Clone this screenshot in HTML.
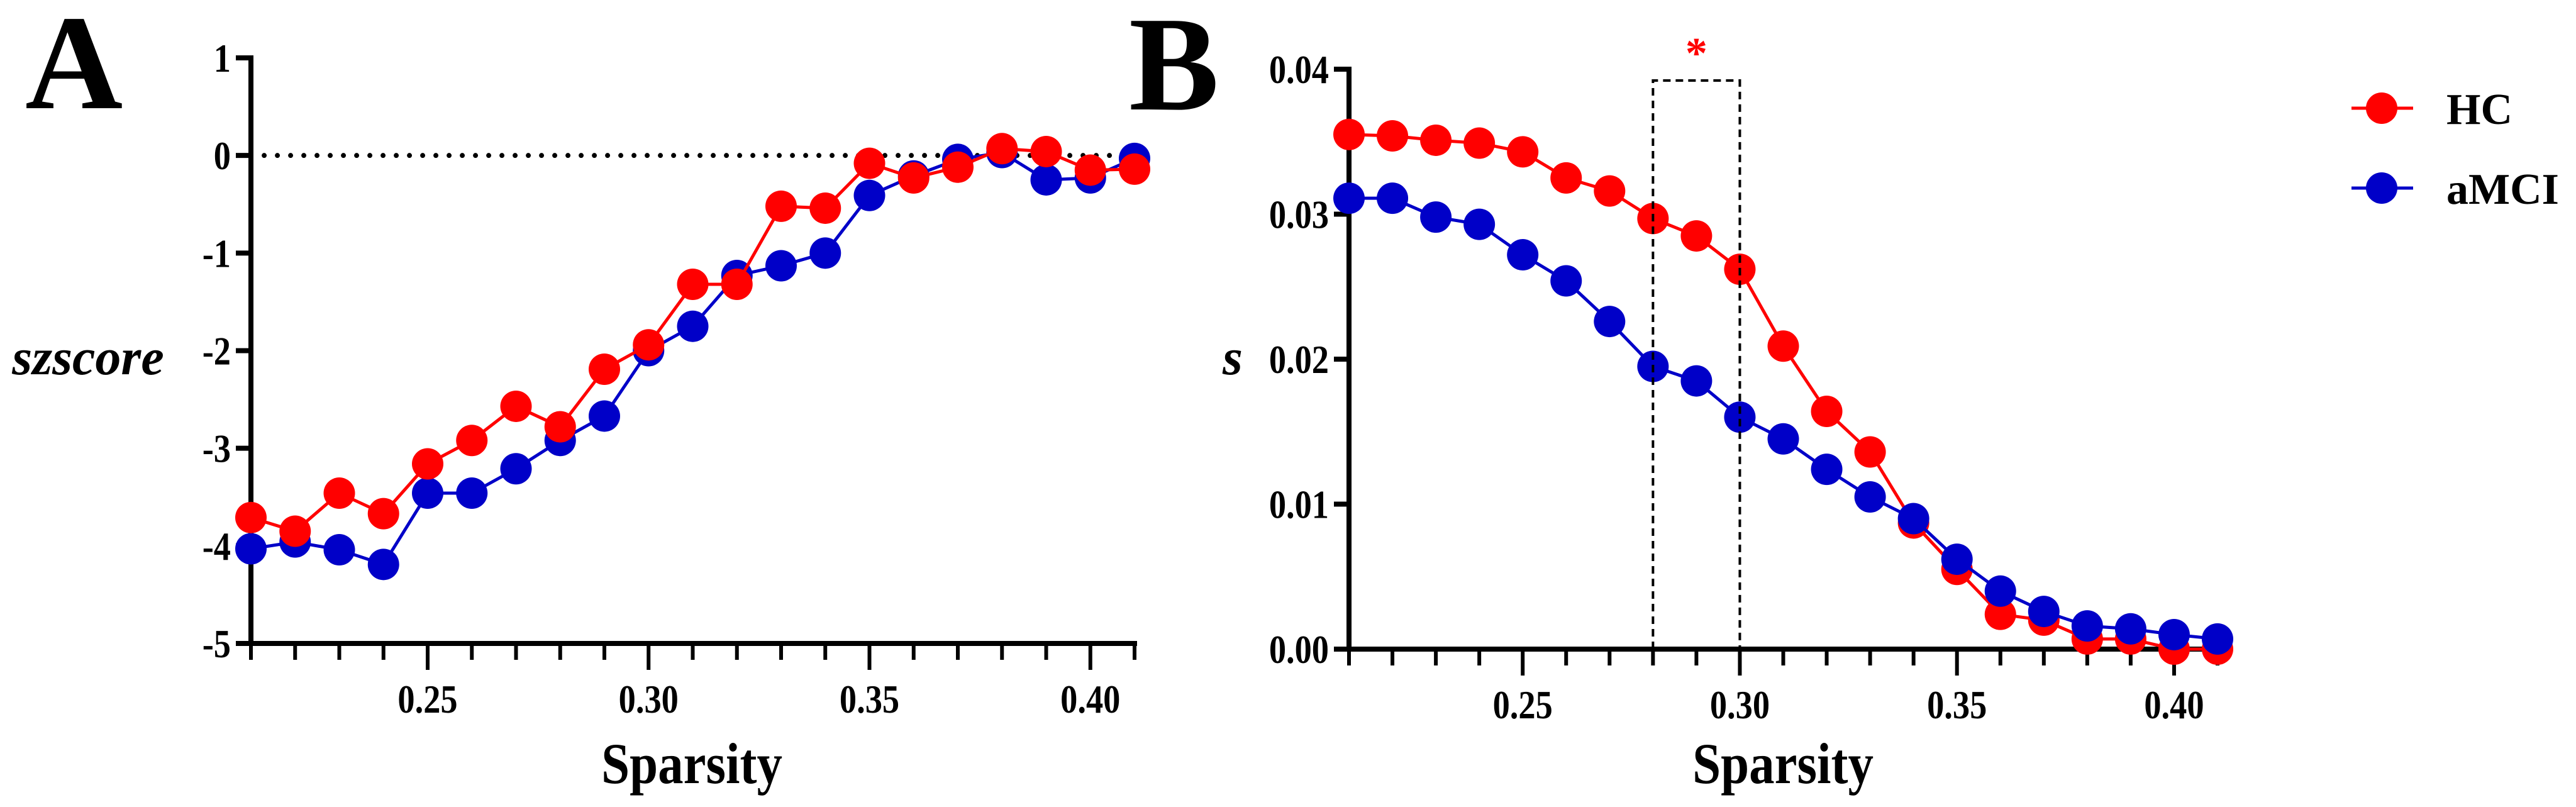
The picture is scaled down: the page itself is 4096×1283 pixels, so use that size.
<!DOCTYPE html>
<html><head><meta charset="utf-8"><style>
html,body{margin:0;padding:0;background:#fff;}
svg{display:block;font-family:"Liberation Serif",serif;font-weight:bold;}
</style></head><body>
<svg id="c" width="4096" height="1283" viewBox="0 0 4096 1283" xmlns="http://www.w3.org/2000/svg">
<text x="40" y="172" font-size="215">A</text>
<text x="1795" y="174" font-size="215">B</text>
<text x="140" y="595" font-size="82" font-style="italic" text-anchor="middle">szscore</text>
<text x="1960" y="595" font-size="82" font-style="italic" text-anchor="middle">s</text>
<text x="0" y="0" font-size="92" text-anchor="middle" transform="translate(1100,1245) scale(0.88,1)">Sparsity</text>
<text x="0" y="0" font-size="92" text-anchor="middle" transform="translate(2835,1245) scale(0.88,1)">Sparsity</text>
<g id="A"></g>
<g id="B"></g>
<g>
<g>
<line x1="3739" y1="172" x2="3837" y2="172" stroke="#ff0000" stroke-width="5"/>
<circle cx="3787" cy="172" r="25" fill="#ff0000"/>
<text x="3890" y="197" font-size="70">HC</text></g>
<g>
<line x1="3739" y1="299" x2="3837" y2="299" stroke="#0000c8" stroke-width="5"/>
<circle cx="3787" cy="299" r="25" fill="#0000c8"/>
<text x="3890" y="324" font-size="70">aMCI</text></g>
</g>
</svg>
<script>
const sparsity=[0.21,0.22,0.23,0.24,0.25,0.26,0.27,0.28,0.29,0.30,0.31,0.32,0.33,0.34,0.35,0.36,0.37,0.38,0.39,0.40,0.41];
const aHC=[-3.71,-3.85,-3.46,-3.67,-3.16,-2.92,-2.57,-2.78,-2.19,-1.94,-1.32,-1.32,-0.52,-0.54,-0.08,-0.23,-0.12,0.07,0.04,-0.15,-0.14];
const aMCI=[-4.03,-3.96,-4.04,-4.19,-3.46,-3.46,-3.21,-2.92,-2.67,-2.0,-1.75,-1.23,-1.13,-1.0,-0.41,-0.21,-0.04,0.03,-0.25,-0.23,-0.03];
const bHC=[0.0355,0.0354,0.0351,0.0349,0.0343,0.0325,0.0316,0.0297,0.0285,0.0262,0.0209,0.0164,0.0136,0.0087,0.0055,0.0024,0.0020,0.0007,0.0007,0.0,0.0];
const bMCI=[0.0311,0.0311,0.0298,0.0293,0.0272,0.0254,0.0226,0.0195,0.0185,0.0160,0.0145,0.0124,0.0105,0.0090,0.0062,0.0040,0.0026,0.0016,0.0014,0.0010,0.0007];
const aYTicks=[1,0,-1,-2,-3,-4,-5];
const aYLabels=["1","0","-1","-2","-3","-4","-5"];
const bYTicks=[0.04,0.03,0.02,0.01,0.0];
const bYLabels=["0.04","0.03","0.02","0.01","0.00"];
const xMajor=[0.25,0.30,0.35,0.40];
const xLabels=["0.25","0.30","0.35","0.40"];
const NS="http://www.w3.org/2000/svg";
function mk(p,t,a){const e=document.createElementNS(NS,t);for(const k in a)e.setAttribute(k,a[k]);p.appendChild(e);return e;}
function panel(g,x0,x1,xmin,xmax,y0,y1,ymin,ymax,ticks,labels,name){
  const X=v=>x0+(v-xmin)/(xmax-xmin)*(x1-x0);
  const Y=v=>y0+(v-ymin)/(ymax-ymin)*(y1-y0);
  let e=mk(g,'line',{x1:x0,y1:Y(ymax)-4,x2:x0,y2:Y(ymin)+4,stroke:'#000','stroke-width':8});
  
  
  e=mk(g,'line',{x1:x0-4,y1:Y(ymin),x2:x1+4,y2:Y(ymin),stroke:'#000','stroke-width':8});
  
  
  ticks.forEach((t,i)=>{
    mk(g,'line',{x1:x0-24,y1:Y(t),x2:x0,y2:Y(t),stroke:'#000','stroke-width':8});
    const tx=mk(g,'text',{x:0,y:0,'font-size':64,'text-anchor':'end',transform:`translate(${x0-32},${Y(t)+22}) scale(0.85,1)`});
    tx.textContent=labels[i];
    
    
  });
  sparsity.forEach(v=>{
    const major=xMajor.some(m=>Math.abs(m-v)<1e-6);
    mk(g,'line',{x1:X(v),y1:Y(ymin),x2:X(v),y2:Y(ymin)+(major?42:26),stroke:'#000','stroke-width':6});
  });
  xMajor.forEach((v,i)=>{
    const tx=mk(g,'text',{x:0,y:0,'font-size':64,'text-anchor':'middle',transform:`translate(${X(v)},${Y(ymin)+110}) scale(0.85,1)`});
    tx.textContent=xLabels[i];
    
    
  });
  return {X,Y};
}
function series(g,X,Y,vals,col,name){
  const sg=mk(g,'g',{});
  
  
  mk(sg,'polyline',{points:vals.map((v,i)=>X(sparsity[i])+','+Y(v)).join(' '),fill:'none',stroke:col,'stroke-width':5});
  vals.forEach((v,i)=>{const c=mk(sg,'circle',{cx:X(sparsity[i]),cy:Y(v),r:25,fill:col});
    
    });
}
const gA=document.getElementById('A');
const pa=panel(gA,399,1804,0.21,0.41,1023,92,-5,1,aYTicks,aYLabels,'a');
let z=mk(gA,'line',{x1:pa.X(0.213),y1:pa.Y(0),x2:pa.X(0.41),y2:pa.Y(0),stroke:'#000','stroke-width':8,'stroke-dasharray':'0 21','stroke-linecap':'round'});


series(gA,pa.X,pa.Y,aMCI,'#0000c8','a-series-amci');
series(gA,pa.X,pa.Y,aHC,'#ff0000','a-series-hc');
const gB=document.getElementById('B');
const pb=panel(gB,2145,3526,0.21,0.41,1032,110,0,0.04,bYTicks,bYLabels,'b');
series(gB,pb.X,pb.Y,bHC,'#ff0000','b-series-hc');
series(gB,pb.X,pb.Y,bMCI,'#0000c8','b-series-amci');
const bx=mk(gB,'polyline',{points:`${pb.X(0.28)},${pb.Y(0)} ${pb.X(0.28)},128 ${pb.X(0.30)},128 ${pb.X(0.30)},${pb.Y(0)}`,fill:'none',stroke:'#000','stroke-width':4,'stroke-dasharray':'12 8'});


const st=mk(gB,'text',{x:pb.X(0.29),y:108,'font-size':70,fill:'#ff0000','text-anchor':'middle'});
st.textContent='*';


</script>
</body></html>
